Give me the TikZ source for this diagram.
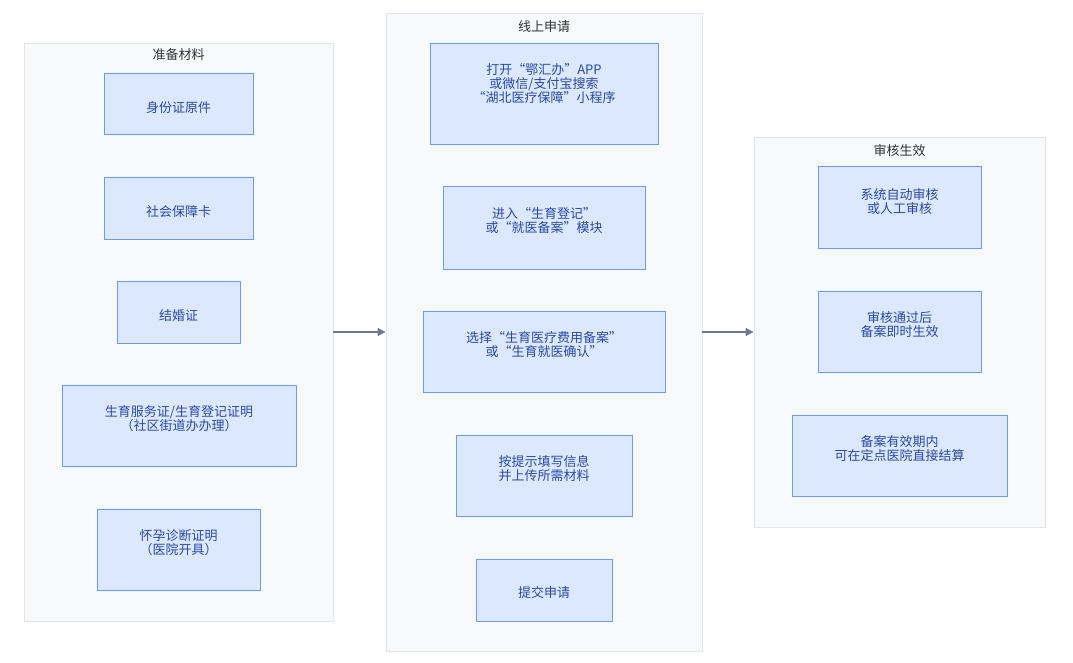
\documentclass[tikz,border=0pt]{standalone}
\usepackage{fontspec}
\setmainfont{Noto Sans CJK SC}
\usetikzlibrary{arrows.meta}
\definecolor{clfill}{HTML}{F8F9FB}
\definecolor{cldraw}{HTML}{E3E5E9}
\definecolor{bxfill}{HTML}{DBE8FD}
\definecolor{bxdraw}{HTML}{6A9AF2}
\definecolor{bxtext}{HTML}{2B4AA6}
\definecolor{tttext}{HTML}{333333}
\definecolor{arr}{HTML}{6B7A92}
\tikzset{
  cluster/.style={draw=cldraw, fill=clfill, line width=0.8pt, inner sep=0pt},
  box/.style={draw=bxdraw, fill=bxfill, line width=1pt, inner sep=0pt},
  txt/.style={text=bxtext, align=center, font=\fontsize{13}{14}\selectfont, inner sep=0pt},
  ttl/.style={text=tttext, font=\fontsize{13}{14}\selectfont, inner sep=0pt},
  flow/.style={draw=arr, line width=1.1pt, -{Triangle[length=8pt,width=8pt]}}
}
\begin{document}
\begin{tikzpicture}[x=1pt,y=-1pt]
\useasboundingbox[fill=white] (0,0) rectangle (1073,663);
% clusters
\node[cluster, minimum width=309pt, minimum height=578pt] (c1) at (178.5,332) {};
\node[cluster, minimum width=316pt, minimum height=638pt] (c2) at (544,332) {};
\node[cluster, minimum width=291pt, minimum height=390pt] (c3) at (899.5,332) {};
\node[ttl] (t1) at (178.5,55) {准备材料};
\node[ttl] (t2) at (544,27) {线上申请};
\node[ttl] (t3) at (899.5,151) {审核生效};
% left boxes
\node[box, minimum width=149pt, minimum height=61pt] (a1) at (178.5,104.5) {};
\node[txt] (a1t) at ([yshift=-3.5pt]a1.center) {身份证原件};
\node[box, minimum width=149pt, minimum height=61pt] (a2) at (178.5,208.5) {};
\node[txt] (a2t) at ([yshift=-3.5pt]a2.center) {社会保障卡};
\node[box, minimum width=123pt, minimum height=62pt] (a3) at (178.5,312) {};
\node[txt] (a3t) at ([yshift=-3.5pt]a3.center) {结婚证};
\node[box, minimum width=234pt, minimum height=81pt] (a4) at (179,425.5) {};
\node[txt] (a4t) at ([yshift=6.5pt]a4.center) {生育服务证/生育登记证明\\（社区街道办办理）};
\node[box, minimum width=163pt, minimum height=81pt] (a5) at (178.5,549.5) {};
\node[txt] (a5t) at ([yshift=6.5pt]a5.center) {怀孕诊断证明\\（医院开具）};
% middle boxes
\node[box, minimum width=228pt, minimum height=101pt] (b1) at (544,94.5) {};
\node[txt] (b1t) at ([yshift=10.5pt]b1.center) {打开“鄂汇办”APP\\或微信/支付宝搜索\\“湖北医疗保障”小程序};
\node[box, minimum width=202pt, minimum height=82pt] (b2) at (544,228) {};
\node[txt] (b2t) at ([yshift=7pt]b2.center) {进入“生育登记”\\或“就医备案”模块};
\node[box, minimum width=242pt, minimum height=81pt] (b3) at (544,351.5) {};
\node[txt] (b3t) at ([yshift=6.5pt]b3.center) {选择“生育医疗费用备案”\\或“生育就医确认”};
\node[box, minimum width=176pt, minimum height=81pt] (b4) at (544,475.5) {};
\node[txt] (b4t) at ([yshift=6.5pt]b4.center) {按提示填写信息\\并上传所需材料};
\node[box, minimum width=136pt, minimum height=62pt] (b5) at (544,590) {};
\node[txt] (b5t) at ([yshift=-2.5pt]b5.center) {提交申请};
% right boxes
\node[box, minimum width=163pt, minimum height=81pt] (r1) at (899.5,207.5) {};
\node[txt] (r1t) at ([yshift=5.5pt]r1.center) {系统自动审核\\或人工审核};
\node[box, minimum width=163pt, minimum height=81pt] (r2) at (899.5,331.5) {};
\node[txt] (r2t) at ([yshift=6.5pt]r2.center) {审核通过后\\备案即时生效};
\node[box, minimum width=215pt, minimum height=81pt] (r3) at (899.5,455.5) {};
\node[txt] (r3t) at ([yshift=6.5pt]r3.center) {备案有效期内\\可在定点医院直接结算};
% connectors
\draw[flow] (c1.east) -- (c2.west);
\draw[flow] (c2.east) -- (c3.west);
\end{tikzpicture}
\end{document}
